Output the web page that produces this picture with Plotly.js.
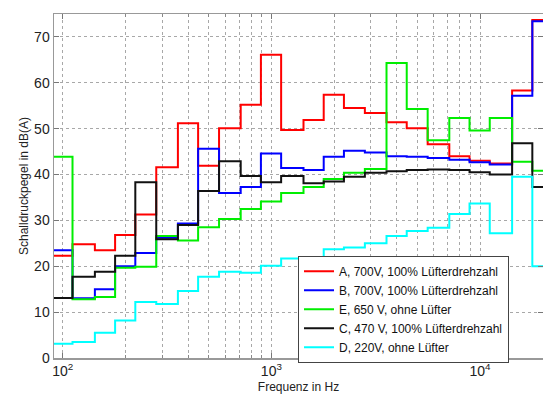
<!DOCTYPE html>
<html>
<head>
<meta charset="utf-8">
<script src="https://cdn.plot.ly/plotly-3.0.1.min.js"></script>
<style>
  html, body { margin: 0; padding: 0; background: #fff; }
  #chart { width: 543px; height: 396px; }
</style>
</head>
<body>
<div id="chart"></div>
<script>
// Third-octave band centre frequencies (Hz)
const bandCenters = [100, 125, 160, 200, 250, 315, 400, 500, 630, 800, 1000, 1250, 1600, 2000, 2500, 3150, 4000, 5000, 6300, 8000, 10000, 12500, 16000, 20000];

// Sound pressure level in dB(A) per band
const seriesA = [22.3, 24.8, 23.5, 26.8, 31.3, 41.6, 51.2, 41.9, 50.1, 55.2, 66.1, 49.7, 51.9, 57.4, 54.5, 53.4, 51.4, 50.1, 46.6, 44.0, 43.0, 42.4, 58.3, 73.7];
const seriesB = [23.5, 13.0, 15.0, 20.0, 22.9, 26.2, 29.3, 45.6, 36.0, 37.3, 44.6, 41.4, 41.0, 43.9, 45.2, 44.8, 44.0, 43.9, 43.6, 43.2, 42.7, 42.2, 57.2, 73.4];
const seriesE = [43.9, 12.8, 13.3, 19.7, 19.9, 26.6, 25.6, 28.5, 30.3, 32.5, 34.1, 36.0, 37.3, 39.0, 40.4, 41.2, 64.3, 54.3, 47.5, 52.3, 49.6, 52.3, 42.8, 40.8];
const seriesC = [13.1, 17.7, 18.8, 22.3, 38.3, 25.9, 29.0, 36.4, 42.9, 39.7, 38.3, 39.7, 38.1, 38.5, 39.5, 40.4, 40.7, 41.0, 41.1, 41.0, 40.5, 40.0, 46.8, 37.3];
const seriesD = [3.1, 3.5, 5.5, 8.2, 12.2, 11.8, 14.6, 17.7, 18.8, 18.6, 20.1, 21.7, 21.7, 23.7, 24.1, 25.0, 26.6, 27.7, 28.4, 31.4, 33.7, 27.2, 39.5, 20.0];

const seriesNames = [
  "A, 700V, 100% Lüfterdrehzahl",
  "B, 700V, 100% Lüfterdrehzahl",
  "E, 650 V, ohne Lüfter",
  "C, 470 V, 100% Lüfterdrehzahl",
  "D, 220V, ohne Lüfter"
];
const seriesColors = ["#ff0000", "#0000ff", "#00ee00", "#111111", "#00ffff"];

const yTickVals = [0, 10, 20, 30, 40, 50, 60, 70];
const xMajor = [100, 1000, 10000];
const xMajorText = ["10<sup>2</sup>", "10<sup>3</sup>", "10<sup>4</sup>"];

// band edges (lower edges + final upper edge) for stair drawing
const f6 = Math.pow(2, 1 / 6);
const edges = bandCenters.map(c => c / f6).concat([bandCenters[bandCenters.length - 1] * f6]);

const allSeries = [seriesA, seriesB, seriesE, seriesC, seriesD];
const traces = allSeries.map((s, i) => ({
  type: "scatter",
  mode: "lines",
  x: edges,
  y: s.concat([s[s.length - 1]]),
  name: seriesNames[i],
  line: { color: seriesColors[i], width: 2, shape: "hv" }
}));

// log minor grid positions (2..9 times each decade)
const xMinor = [];
xMajor.forEach(d => {
  for (let k = 2; k <= 9; k++) {
    const v = d * k;
    if (v > 20000) break;
    xMinor.push(v);
  }
});

const fontFam = "Liberation Sans, Arial, sans-serif";
const gridStyle = { showgrid: true, gridcolor: "#a8a8a8", griddash: "dot", gridwidth: 1 };
const layout = {
  width: 543,
  height: 396,
  margin: { l: 54, r: 0, t: 14, b: 38 },
  paper_bgcolor: "#ffffff",
  plot_bgcolor: "#ffffff",
  font: { family: fontFam, color: "#262626", size: 13 },
  showlegend: true,
  legend: {
    x: 0.499, y: 0.297, xanchor: "left", yanchor: "top",
    bgcolor: "#ffffff", bordercolor: "#444444", borderwidth: 1,
    font: { family: fontFam, size: 12, color: "#111111" },
    tracegroupgap: 0
  },
  xaxis: Object.assign({
    type: "log",
    range: [1.958, 4.302],
    tickmode: "array",
    tickvals: xMajor,
    ticktext: xMajorText,
    tickfont: { size: 14, color: "#222222" },
    ticks: "inside", ticklen: 5, tickcolor: "#777",
    minor: Object.assign({ tickmode: "array", tickvals: xMinor, ticks: "inside", ticklen: 3, tickcolor: "#888" }, gridStyle),
    showline: true, linecolor: "#999", linewidth: 1.5, mirror: "ticks",
    zeroline: false,
    title: { text: "Frequenz in Hz", font: { size: 12, color: "#222222" }, standoff: 4 }
  }, gridStyle),
  yaxis: Object.assign({
    range: [0, 75],
    tickmode: "array",
    tickvals: yTickVals,
    tickfont: { size: 14, color: "#222222" },
    ticks: "inside", ticklen: 5, tickcolor: "#777",
    showline: true, linecolor: "#999", linewidth: 1.5, mirror: "ticks",
    zeroline: false,
    title: { text: "Schalldruckpegel in dB(A)", font: { size: 12, color: "#222222" }, standoff: 3 }
  }, gridStyle)
};

Plotly.newPlot("chart", traces, layout, { staticPlot: true, displayModeBar: false });
</script>
</body>
</html>
